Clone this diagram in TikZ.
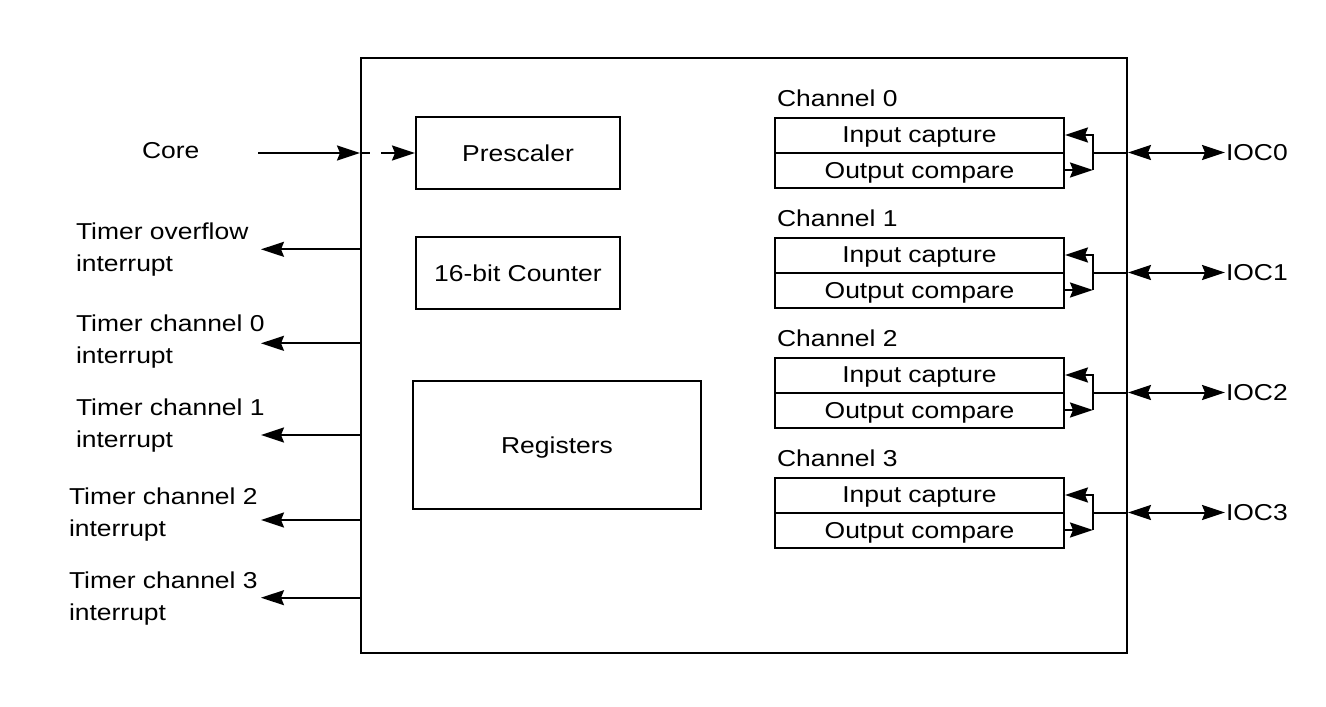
\documentclass[tikz,border=0pt]{standalone}
\usepackage{fontspec}
\setmainfont{Liberation Sans}[FakeStretch=1.15]
\usetikzlibrary{arrows.meta,calc}

\begin{document}
\begin{tikzpicture}[x=0.5pt, y=-0.5pt, line width=1pt,
  font=\fontsize{11.5}{16}\selectfont,
  box/.style={draw, line width=1pt, inner sep=0pt},
  half/.style={box, minimum width=144.5pt, minimum height=17.5pt, text depth=0pt},
  lbl/.style={anchor=base west, align=left, inner sep=0pt},
  tip/.style={-{Stealth[length=11.5pt, width=7.5pt, inset=1.5pt]}},
  tips/.style={{Stealth[length=11.5pt, width=7.5pt, inset=1.5pt]}-{Stealth[length=11.5pt, width=7.5pt, inset=1.5pt]}}]
  \useasboundingbox (0,0) rectangle (1326,706);
  % 定时器外框与内部模块
  \node[box, minimum width=383pt, minimum height=297.5pt] (tim) at (744,355.5) {};
  \node[box, minimum width=102pt, minimum height=36pt, text depth=0pt] (pre) at (518,153) {Prescaler};
  \node[box, minimum width=102pt, minimum height=36pt, text depth=0pt] (cnt) at (518,273) {16-bit Counter};
  \node[box, minimum width=144pt, minimum height=64pt, text depth=0pt] (reg) at (557,445) {Registers};
  % 时钟输入
  \node[lbl] (core) at (141,158.3) {Core};
  \coordinate (cin) at (258,153);
  \draw[tip] (cin) -- (tim.west |- cin);
  \draw[tip, dash pattern=on 5pt off 5.5pt on 40pt] (tim.west |- pre) -- (pre.west);
  % 中断输出
  \coordinate (iovf) at (261,249.3);
  \draw[tip] (tim.west |- iovf) -- (iovf);
  \node[lbl] (tovf) at (75,271.5) {Timer overflow\\interrupt};
  \coordinate (ich0) at (261,343.3);
  \draw[tip] (tim.west |- ich0) -- (ich0);
  \node[lbl] (tch0) at (75,363.5) {Timer channel 0\\interrupt};
  \coordinate (ich1) at (261,435);
  \draw[tip] (tim.west |- ich1) -- (ich1);
  \node[lbl] (tch1) at (75,447) {Timer channel 1\\interrupt};
  \coordinate (ich2) at (261,520);
  \draw[tip] (tim.west |- ich2) -- (ich2);
  \node[lbl] (tch2) at (68,536) {Timer channel 2\\interrupt};
  \coordinate (ich3) at (261,597.7);
  \draw[tip] (tim.west |- ich3) -- (ich3);
  \node[lbl] (tch3) at (68,620) {Timer channel 3\\interrupt};
  % 通道 0
  \node[lbl] (ch0) at (776,106.7) {Channel 0};
  \node[half] (ic0) at (919.5,135) {Input capture};
  \node[half] (oc0) at (919.5,170) {Output compare};
  \coordinate (j0) at (1093,152.5);
  \draw[tip] (j0) -- (j0 |- ic0) -- (ic0.east);
  \draw (j0) -- (j0 |- oc0);
  \draw[tip] (oc0.east) -- (j0 |- oc0);
  \node[anchor=west, inner sep=0pt] (p0) at (1225,152.5) {IOC0};
  \draw (j0) -- (tim.east |- j0);
  \draw[tips] (tim.east |- j0) -- (p0.west);
  % 通道 1
  \node[lbl] (ch1) at (776,226.7) {Channel 1};
  \node[half] (ic1) at (919.5,255) {Input capture};
  \node[half] (oc1) at (919.5,290) {Output compare};
  \coordinate (j1) at (1093,272.5);
  \draw[tip] (j1) -- (j1 |- ic1) -- (ic1.east);
  \draw (j1) -- (j1 |- oc1);
  \draw[tip] (oc1.east) -- (j1 |- oc1);
  \node[anchor=west, inner sep=0pt] (p1) at (1225,272.5) {IOC1};
  \draw (j1) -- (tim.east |- j1);
  \draw[tips] (tim.east |- j1) -- (p1.west);
  % 通道 2
  \node[lbl] (ch2) at (776,346.7) {Channel 2};
  \node[half] (ic2) at (919.5,375) {Input capture};
  \node[half] (oc2) at (919.5,410) {Output compare};
  \coordinate (j2) at (1093,392.5);
  \draw[tip] (j2) -- (j2 |- ic2) -- (ic2.east);
  \draw (j2) -- (j2 |- oc2);
  \draw[tip] (oc2.east) -- (j2 |- oc2);
  \node[anchor=west, inner sep=0pt] (p2) at (1225,392.5) {IOC2};
  \draw (j2) -- (tim.east |- j2);
  \draw[tips] (tim.east |- j2) -- (p2.west);
  % 通道 3
  \node[lbl] (ch3) at (776,466.7) {Channel 3};
  \node[half] (ic3) at (919.5,495) {Input capture};
  \node[half] (oc3) at (919.5,530) {Output compare};
  \coordinate (j3) at (1093,512.5);
  \draw[tip] (j3) -- (j3 |- ic3) -- (ic3.east);
  \draw (j3) -- (j3 |- oc3);
  \draw[tip] (oc3.east) -- (j3 |- oc3);
  \node[anchor=west, inner sep=0pt] (p3) at (1225,512.5) {IOC3};
  \draw (j3) -- (tim.east |- j3);
  \draw[tips] (tim.east |- j3) -- (p3.west);
\end{tikzpicture}
\end{document}
